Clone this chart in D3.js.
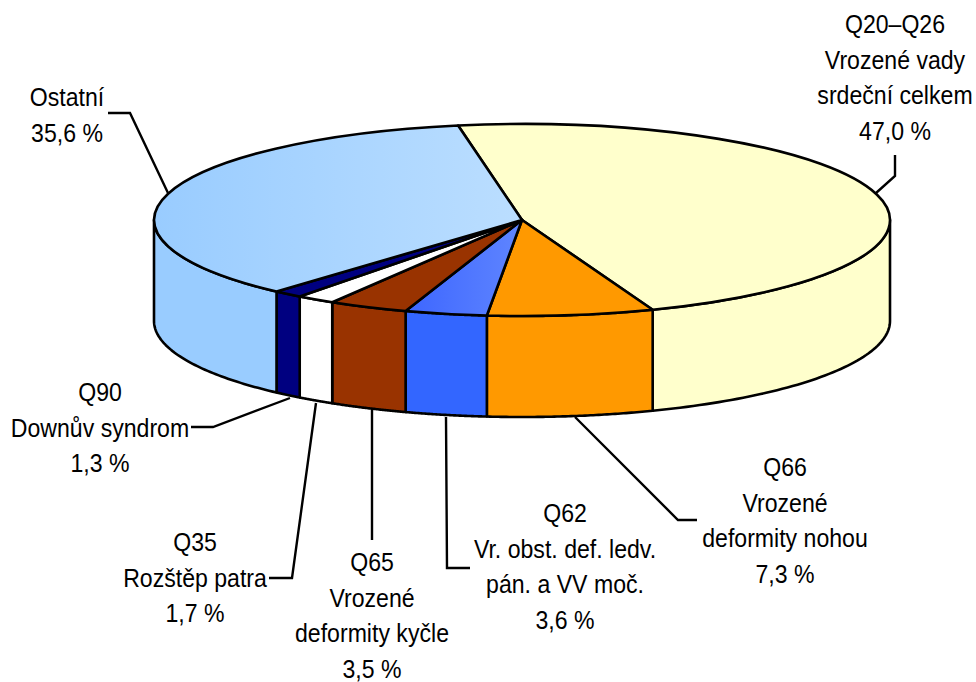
<!DOCTYPE html>
<html><head><meta charset="utf-8">
<script src="https://cdn.jsdelivr.net/npm/d3@7/dist/d3.min.js"></script>
<style>html,body{margin:0;padding:0;background:#fff}svg{display:block}</style>
</head><body><svg id="c" width="976" height="682"></svg>
<script>
const categories=["Q20–Q26","Q66","Q62","Q65","Q35","Q90","Ostatní"];
const values=[47.0,7.3,3.6,3.5,1.7,1.3,35.6];
const labelLines=[
 ["Q20–Q26","Vrozené vady","srdeční celkem","47,0 %"],
 ["Q66","Vrozené","deformity nohou","7,3 %"],
 ["Q62","Vr. obst. def. ledv.","pán. a VV moč.","3,6 %"],
 ["Q65","Vrozené","deformity kyčle","3,5 %"],
 ["Q35","Rozštěp patra","1,7 %"],
 ["Q90","Downův syndrom","1,3 %"],
 ["Ostatní","35,6 %"]];
const sideColors=["#ffffcc","#ff9900","#3366ff","#993300","#ffffff","#000080","#99ccff"];
const topLeft=["#ffffcc","#ff9900","#3d66ff","#993300","#ffffff","#000080","#99ccff"];
const topRight=["#ffffcc","#ff9900","#5f85ff","#993300","#ffffff","#000080","#bbdeff"];

const cx=522,cy=220,rx=368,ry=96,depth=101;
const labelX=[895,785,565,372,195,100,67];
const labelY=[24,467,513,562,542,392,97];
const lineGap=35.5, xSquash=0.865, fontSize=26.7;
const leaders=[
 [[876,193],[895,176],[895,155]],
 [[575,417],[678,520],[697,520]],
 [[446,417],[447,568],[470,568]],
 [[372,410],[372,540]],
 [[316,403],[292,578],[269,578]],
 [[290,398],[213,427],[191,427]],
 [[168,193],[130,113],[108,113]]];

const svg=d3.select("#c");
const defs=svg.append("defs");
const pie=d3.pie().sort(null).startAngle(-10*Math.PI/180).endAngle(350*Math.PI/180);
const arcs=pie(values);
const px=t=>cx+rx*Math.sin(t), py=t=>cy-ry*Math.cos(t);

arcs.forEach((a,i)=>{
  const g=defs.append("linearGradient").attr("id","g"+i).attr("x1",0).attr("x2",1).attr("y1",0).attr("y2",0);
  g.append("stop").attr("offset",0).attr("stop-color",topLeft[i]);
  g.append("stop").attr("offset",1).attr("stop-color",topRight[i]);
});

// side walls (only the front half of the ellipse is visible)
const linePath=d3.line().x(d=>d[0]).y(d=>d[1]);
const walls=svg.append("g");
arcs.forEach((a,i)=>{
  const s=Math.max(a.startAngle,Math.PI/2), e=Math.min(a.endAngle,3*Math.PI/2);
  if(e<=s) return;
  const ts=d3.range(0,61).map(k=>s+(e-s)*k/60);
  const pts=ts.map(t=>[px(t),py(t)]).concat(ts.slice().reverse().map(t=>[px(t),py(t)+depth]));
  walls.append("path").attr("d",linePath(pts)+"Z").attr("fill",sideColors[i])
    .attr("stroke","#000").attr("stroke-width",2.6).attr("stroke-linejoin","round");
});

// top face
const arcGen=d3.arc().innerRadius(0).outerRadius(rx);
const topFace=svg.append("g").attr("transform",`translate(${cx},${cy}) scale(1,${ry/rx})`);
topFace.selectAll("path").data(arcs).join("path").attr("d",arcGen)
  .attr("fill",(d,i)=>`url(#g${i})`)
  .attr("stroke","#000").attr("stroke-width",2.6).attr("stroke-linejoin","round")
  .attr("vector-effect","non-scaling-stroke");

// leaders
svg.append("g").selectAll("path").data(leaders).join("path")
  .attr("d",d=>linePath(d)).attr("fill","none").attr("stroke","#000").attr("stroke-width",2.4);

// labels
labelLines.forEach((ls,i)=>{
  ls.forEach((t,j)=>{
    svg.append("text")
      .attr("transform",`translate(${labelX[i]},${labelY[i]+j*lineGap+9}) scale(${xSquash},1)`)
      .attr("text-anchor","middle")
      .attr("font-family","'Liberation Sans',Arial,sans-serif")
      .attr("font-size",fontSize).attr("fill","#000").text(t);
  });
});
</script></body></html>
